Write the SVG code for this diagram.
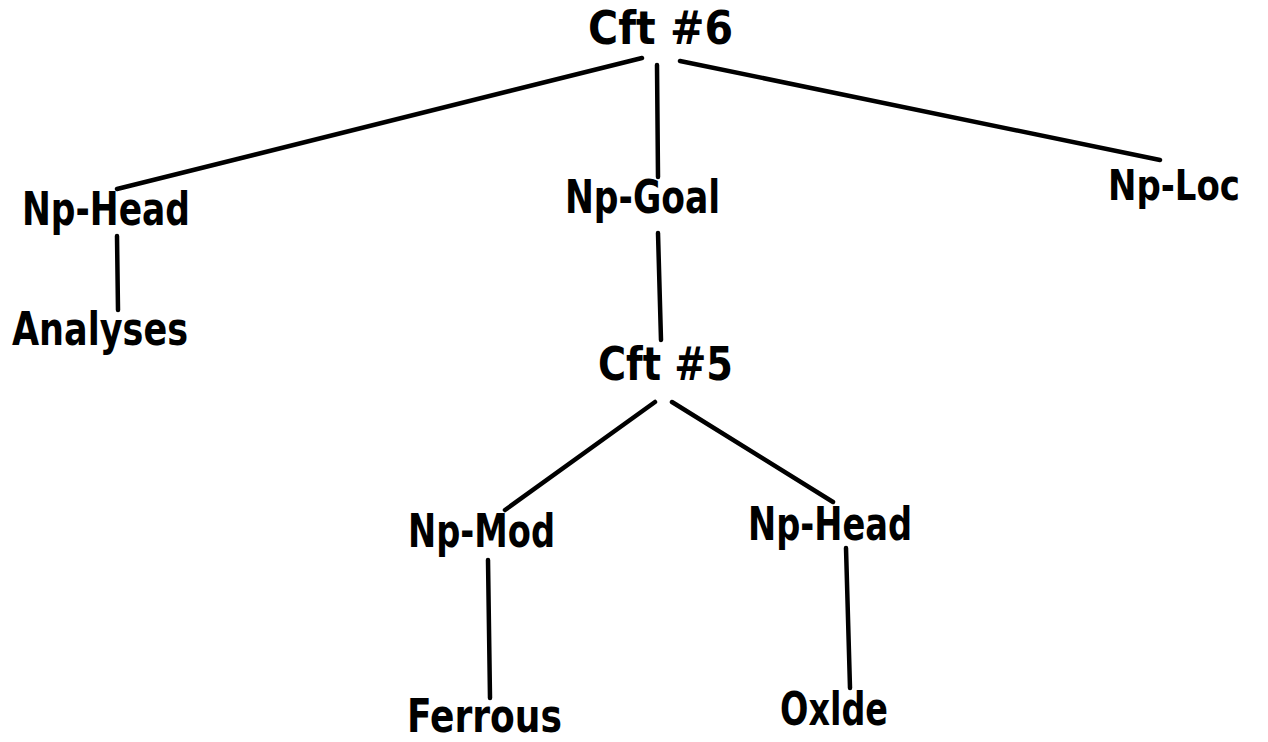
<svg xmlns="http://www.w3.org/2000/svg" width="1268" height="742" viewBox="0 0 1268 742">
<style>
.lbl{font-family:"DejaVu Sans Condensed","DejaVu Sans",sans-serif;font-weight:bold;font-size:46px;fill:#000}
.sm{font-size:42px}
.edge{stroke:#000;stroke-width:4.5;stroke-linecap:round;fill:none}
</style>
<rect width="1268" height="742" fill="#fff"/>
<g id="connectors">
<line class="edge" x1="642" y1="58" x2="117" y2="189"/>
<line class="edge" x1="657" y1="65" x2="658" y2="177"/>
<line class="edge" x1="680" y1="61" x2="1160" y2="160"/>
<line class="edge" x1="117" y1="236" x2="118" y2="310"/>
<line class="edge" x1="658" y1="233" x2="661" y2="340"/>
<line class="edge" x1="655" y1="402" x2="505" y2="510"/>
<line class="edge" x1="672" y1="402" x2="833" y2="502"/>
<line class="edge" x1="488" y1="560" x2="490" y2="698"/>
<line class="edge" x1="846" y1="548" x2="850" y2="688"/>
</g>
<g id="cft6"><text class="lbl" x="588" y="44" textLength="145" lengthAdjust="spacingAndGlyphs">Cft #6</text></g>
<g id="np-head-1"><text class="lbl" x="22" y="225" textLength="168" lengthAdjust="spacingAndGlyphs">Np-Head</text></g>
<g id="analyses"><text class="lbl" x="12" y="345" textLength="176" lengthAdjust="spacingAndGlyphs">Analyses</text></g>
<g id="np-goal"><text class="lbl" x="565" y="213" textLength="155" lengthAdjust="spacingAndGlyphs">Np-Goal</text></g>
<g id="np-loc"><text class="lbl sm" x="1240" y="200" text-anchor="end" textLength="132" lengthAdjust="spacingAndGlyphs">Np-Loc</text></g>
<g id="cft5"><text class="lbl" x="598" y="380" textLength="135" lengthAdjust="spacingAndGlyphs">Cft #5</text></g>
<g id="np-mod"><text class="lbl" x="408" y="547" textLength="147" lengthAdjust="spacingAndGlyphs">Np-Mod</text></g>
<g id="np-head-2"><text class="lbl" x="748" y="540" textLength="164" lengthAdjust="spacingAndGlyphs">Np-Head</text></g>
<g id="ferrous"><text class="lbl" x="407" y="732" textLength="155" lengthAdjust="spacingAndGlyphs">Ferrous</text></g>
<g id="oxlde"><text class="lbl" x="780" y="725" textLength="108" lengthAdjust="spacingAndGlyphs">Oxlde</text></g>
</svg>
